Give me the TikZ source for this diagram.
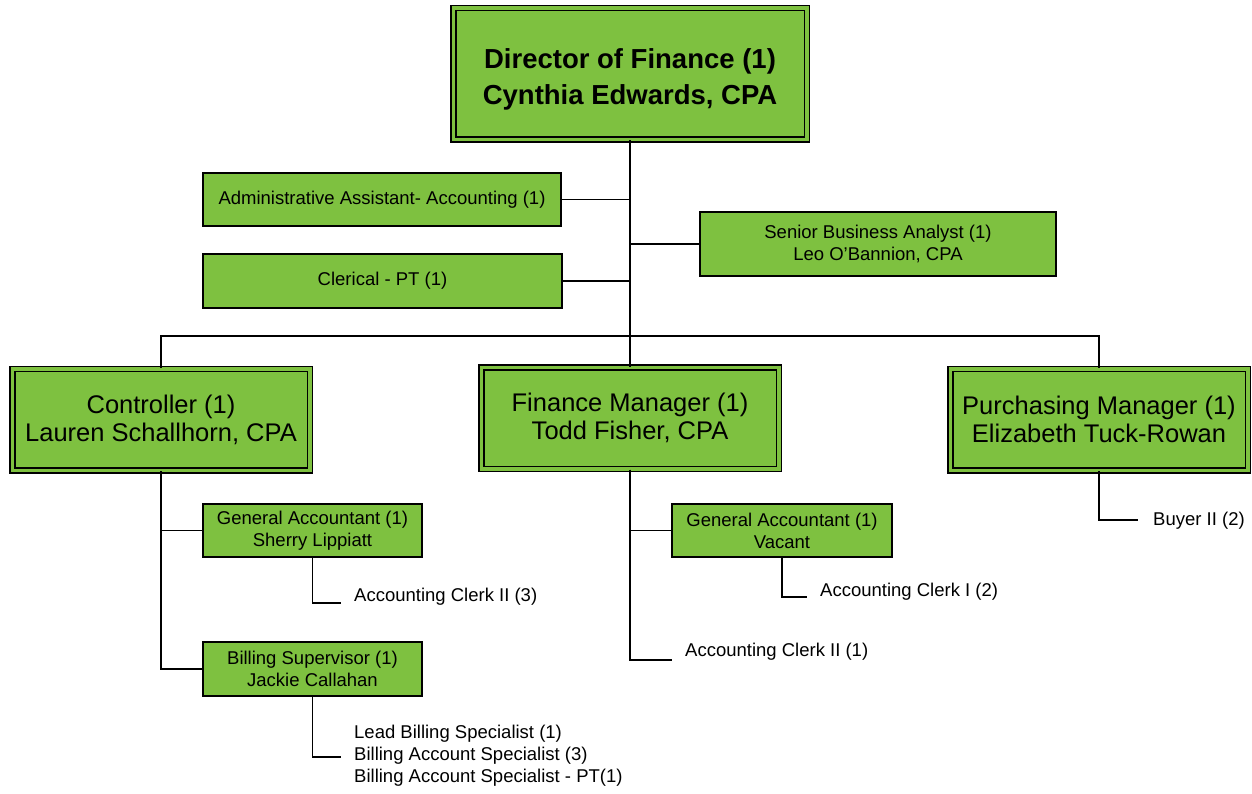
\documentclass[tikz,border=0pt]{standalone}
\usepackage{fontspec}
\setmainfont{Liberation Sans}
\definecolor{boxgreen}{RGB}{126,193,64}
\begin{document}
\begin{tikzpicture}[x=1pt,y=-1pt,
  link/.style={draw=black, line width=1.8pt},
  headbox/.style={draw=black, fill=boxgreen, double=boxgreen, double distance=3.5pt,
    line width=1.5pt, inner sep=0pt, align=center,
    minimum width=353.5pt, minimum height=131.5pt,
    font=\fontsize{27.5}{36}\selectfont\bfseries},
  mgrbox/.style={draw=black, fill=boxgreen, double=boxgreen, double distance=3.5pt,
    line width=1.5pt, inner sep=0pt, align=center,
    minimum width=297.5pt, minimum height=101.5pt,
    font=\fontsize{25.5}{28}\selectfont},
  staffbox/.style={draw=black, fill=boxgreen, line width=1.6pt, inner sep=0pt,
    align=center, font=\fontsize{18.5}{22}\selectfont},
  role/.style={anchor=west, inner sep=0pt, align=left,
    font=\fontsize{18.5}{22}\selectfont}]
\useasboundingbox (0,0) rectangle (1252,794);

% top level (the strut lowers the two lines a little inside the box)
\node[headbox] (dir) at (630,74) {\rule{0pt}{30pt}Director of Finance (1)\\Cynthia Edwards, CPA};

% staff reporting directly to the director
\node[staffbox, minimum width=358.5pt, minimum height=53.5pt] (adm) at (382,199.5)
  {Administrative Assistant- Accounting (1)};
\node[staffbox, minimum width=359.5pt, minimum height=54.5pt] (clr) at (382.5,281)
  {Clerical - PT (1)};
\node[staffbox, minimum width=356.5pt, minimum height=64.5pt] (sba) at (878,244)
  {Senior Business Analyst (1)\\Leo O'Bannion, CPA};

% managers
\node[mgrbox] (ctl) at (161,419.5) {Controller (1)\\Lauren Schallhorn, CPA};
\node[mgrbox] (fin) at (630,418) {Finance Manager (1)\\Todd Fisher, CPA};
\node[mgrbox] (pur) at (1099,419.5) {Purchasing Manager (1)\\Elizabeth Tuck-Rowan};

% supervisors
\node[staffbox, minimum width=219.5pt, minimum height=53.5pt] (ga1) at (312.5,530.5)
  {General Accountant (1)\\Sherry Lippiatt};
\node[staffbox, minimum width=219.5pt, minimum height=54.5pt] (bil) at (312.5,669)
  {Billing Supervisor (1)\\Jackie Callahan};
\node[staffbox, minimum width=220.5pt, minimum height=53.5pt] (ga2) at (782,530.5)
  {General Accountant (1)\\Vacant};

% positions without boxes
\node[role] (c1) at (354,597) {Accounting Clerk II (3)};
\node[role] (c2) at (354,756) {Lead Billing Specialist (1)\\Billing Account Specialist (3)\\Billing Account Specialist - PT(1)};
\node[role] (c3) at (820,592) {Accounting Clerk I (2)};
\node[role] (c4) at (685,652) {Accounting Clerk II (1)};
\node[role] (c5) at (1153,521) {Buyer II (2)};

% connector end points
\coordinate (bar) at (630,336);
\coordinate (c1e) at (341,603);
\coordinate (c2e) at (341,757);
\coordinate (c3e) at (807,597);
\coordinate (c4e) at (672,660);
\coordinate (c5e) at (1138,520);

% connectors
\draw[link] (dir.south) -- (fin.north);
\draw[link] (ctl.north) |- (bar) -| (pur.north);
\draw[link] (adm.east) -- (adm.east -| dir.south);
\draw[link] (clr.east) -- (clr.east -| dir.south);
\draw[link] (sba.west) -- (sba.west -| dir.south);

\draw[link] (ctl.south) |- (ga1.west);
\draw[link] (ctl.south) |- (bil.west);
\draw[link] (ga1.south) |- (c1e);
\draw[link] (bil.south) |- (c2e);

\draw[link] (fin.south) |- (ga2.west);
\draw[link] (fin.south) |- (c4e);
\draw[link] (ga2.south) |- (c3e);

\draw[link] (pur.south) |- (c5e);
\end{tikzpicture}
\end{document}
